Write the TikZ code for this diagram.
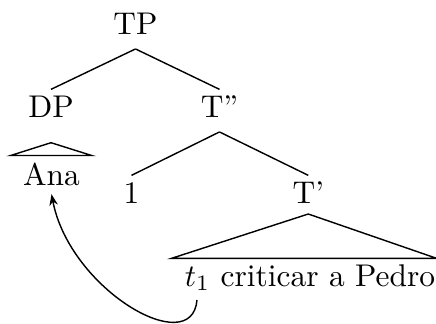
\documentclass[tikz,border=0pt]{standalone}
\usetikzlibrary{arrows.meta}
\begin{document}
\begin{tikzpicture}[x=0.3185pt,y=-0.3185pt,
  tn/.style={anchor=base,inner sep=0pt,text height=8.7pt,text depth=4.46pt},
  leaf/.style={anchor=base,inner sep=0pt,text height=6.9pt,text depth=2.5pt},
  edge/.style={line width=0.45pt},
  move/.style={-{Stealth[length=3.6pt,width=2.7pt]},line width=0.45pt}]
\useasboundingbox (0,0) rectangle (436,324);
% tree nodes
\node[tn] (TP) at (135.5,34.3) {TP};
\node[tn] (DP) at (51,117.3) {DP};
\node[tn] (Tbar2) at (219.5,117.3) {T''};
\node[tn] (one) at (131.5,203.3) {1};
\node[tn] (Tbar) at (308.3,203.3) {T'};
\node[leaf] (Ana) at (51.5,185.7) {Ana};
\node[leaf] (VP) at (310,286) {$t_1$ criticar a Pedro};
% edges
\draw[edge] (TP.south) -- (DP.north);
\draw[edge] (TP.south) -- (Tbar2.north);
\draw[edge] (Tbar2.south) -- (one.north);
\draw[edge] (Tbar2.south) -- (Tbar.north);
% roofs
\coordinate (DPa) at (51,142.7);
\coordinate (DPl) at (10.7,155.5);
\coordinate (DPr) at (91.7,155.5);
\draw[edge] (DPa) -- (DPl) -- (DPr) -- cycle;
\coordinate (Ta) at (308.3,214);
\coordinate (Tl) at (171.7,258.3);
\coordinate (Tr) at (436.5,258.3);
\draw[edge] (Ta) -- (Tl) -- (Tr) -- cycle;
% movement arrow
\coordinate (trace) at (197,300);
\draw[move] (trace) .. controls (192,360) and (70,290) .. (Ana.south);
\end{tikzpicture}
\end{document}
